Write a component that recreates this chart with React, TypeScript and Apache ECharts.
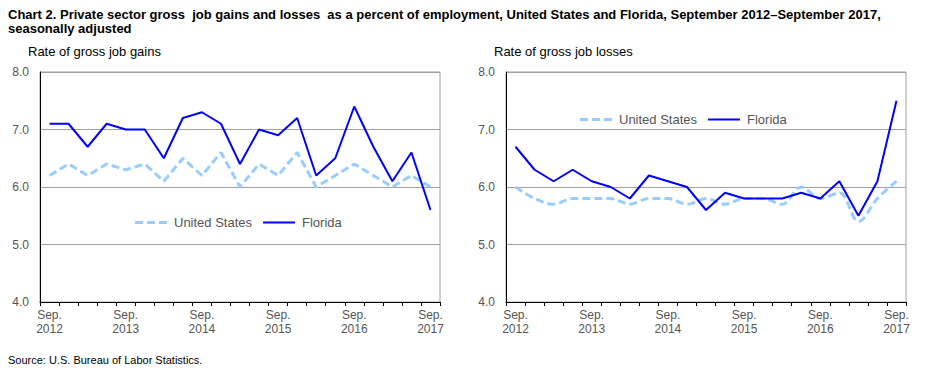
import React, { useEffect, useRef } from "react";
import * as echarts from "echarts";

const quarters = [
  "Sep. 2012", "Dec. 2012", "Mar. 2013", "Jun. 2013",
  "Sep. 2013", "Dec. 2013", "Mar. 2014", "Jun. 2014",
  "Sep. 2014", "Dec. 2014", "Mar. 2015", "Jun. 2015",
  "Sep. 2015", "Dec. 2015", "Mar. 2016", "Jun. 2016",
  "Sep. 2016", "Dec. 2016", "Mar. 2017", "Jun. 2017",
  "Sep. 2017",
];

const gainsUS = [6.2, 6.4, 6.2, 6.4, 6.3, 6.4, 6.1, 6.5, 6.2, 6.6, 6.0, 6.4, 6.2, 6.6, 6.0, 6.2, 6.4, 6.2, 6.0, 6.2, 6.0];
const gainsFL = [7.1, 7.1, 6.7, 7.1, 7.0, 7.0, 6.5, 7.2, 7.3, 7.1, 6.4, 7.0, 6.9, 7.2, 6.2, 6.5, 7.4, 6.7, 6.1, 6.6, 5.6];
const lossesUS = [6.0, 5.8, 5.7, 5.8, 5.8, 5.8, 5.7, 5.8, 5.8, 5.7, 5.8, 5.7, 5.8, 5.8, 5.7, 6.0, 5.8, 5.9, 5.4, 5.8, 6.1];
const lossesFL = [6.7, 6.3, 6.1, 6.3, 6.1, 6.0, 5.8, 6.2, 6.1, 6.0, 5.6, 5.9, 5.8, 5.8, 5.8, 5.9, 5.8, 6.1, 5.5, 6.1, 7.5];

const yTicks = { min: 4, max: 8, interval: 1 };

const titleText =
  "Chart 2. Private sector gross  job gains and losses  as a percent of employment, United States and Florida, September 2012\u2013September 2017,\nseasonally adjusted";
const panelTitles = ["Rate of gross job gains", "Rate of gross job losses"];
const seriesNames = ["United States", "Florida"];
const sourceText = "Source: U.S. Bureau of Labor Statistics.";

const FONT = "Arial, 'Liberation Sans', sans-serif";
const TEXT_GRAY = "#555555";
const US_COLOR = "#99CCFF";
const FL_COLOR = "#0000FF";

const US_ICON = "path://M0,0h8v3h-8z M12,0h8v3h-8z M24,0h8v3h-8z";
const FL_ICON = "path://M0,0h32v2h-32z";

export default function App() {
  const ref = useRef<HTMLDivElement>(null);

  useEffect(() => {
    if (!ref.current) return;
    const chart = echarts.init(ref.current, null, { renderer: "svg" });

    const grids = [
      { left: 40, top: 72, width: 400, height: 230 },
      { left: 506, top: 72, width: 400, height: 230 },
    ];

    const xAxes = grids.map((_, i) => ({
      type: "category",
      gridIndex: i,
      data: quarters,
      boundaryGap: true,
      axisLine: { show: true, lineStyle: { color: "#000", width: 1 } },
      axisTick: { show: true, interval: 0, length: 4, lineStyle: { color: "#000" } },
      axisLabel: {
        interval: 3,
        color: TEXT_GRAY,
        fontFamily: FONT,
        fontSize: 12,
        lineHeight: 14,
        margin: 6,
        formatter: (v: string) => v.replace(" ", "\n"),
      },
      splitLine: { show: false },
    }));

    const yAxes = grids.map((_, i) => ({
      type: "value",
      gridIndex: i,
      min: yTicks.min,
      max: yTicks.max,
      interval: yTicks.interval,
      axisLine: { show: true, lineStyle: { color: "#000", width: 1 } },
      axisTick: { show: false },
      axisLabel: {
        color: TEXT_GRAY,
        fontFamily: FONT,
        fontSize: 12,
        margin: 11,
        formatter: (v: number) => v.toFixed(1),
      },
      splitLine: { show: true, lineStyle: { color: "#A0A0A0", width: 1 } },
    }));

    const mkSeries = (name: string, data: number[], idx: number, isUS: boolean, smooth: boolean) => ({
      name,
      type: "line",
      xAxisIndex: idx,
      yAxisIndex: idx,
      data,
      symbol: "none",
      smooth: smooth ? 0.35 : false,
      lineStyle: isUS
        ? { color: US_COLOR, width: 3, type: [8, 4] }
        : { color: FL_COLOR, width: 2 },
      itemStyle: { color: isUS ? US_COLOR : FL_COLOR },
      z: isUS ? 2 : 3,
    });

    const legendCommon = {
      orient: "horizontal",
      itemWidth: 32,
      itemHeight: 3,
      itemGap: 11,
      textStyle: { color: TEXT_GRAY, fontFamily: FONT, fontSize: 13, padding: [0, 0, 0, 2] },
      selectedMode: false,
      data: [
        { name: seriesNames[0], icon: US_ICON, itemStyle: { color: US_COLOR, borderWidth: 0 } },
        { name: seriesNames[1], icon: FL_ICON, itemStyle: { color: FL_COLOR, borderWidth: 0 } },
      ],
    };

    chart.setOption({
      animation: false,
      backgroundColor: "#fff",
      textStyle: { fontFamily: FONT },
      title: [
        {
          text: titleText,
          left: 3,
          top: 2,
          textStyle: { fontFamily: FONT, fontSize: 13, fontWeight: "bold", color: "#000", lineHeight: 14 },
        },
        {
          text: panelTitles[0],
          left: 23,
          top: 40,
          textStyle: { fontFamily: FONT, fontSize: 13, fontWeight: "normal", color: "#000" },
        },
        {
          text: panelTitles[1],
          left: 489,
          top: 40,
          textStyle: { fontFamily: FONT, fontSize: 13, fontWeight: "normal", color: "#000" },
        },
        {
          text: sourceText,
          left: 3,
          top: 349,
          textStyle: { fontFamily: FONT, fontSize: 11, fontWeight: "normal", color: "#000" },
        },
      ],
      legend: [
        { ...legendCommon, left: 130, top: 211 },
        { ...legendCommon, left: 575, top: 108 },
      ],
      grid: grids.map((g) => ({ ...g, show: true, borderColor: "#A0A0A0", borderWidth: 1, containLabel: false })),
      xAxis: xAxes,
      yAxis: yAxes,
      series: [
        mkSeries(seriesNames[0], gainsUS, 0, true, false),
        mkSeries(seriesNames[1], gainsFL, 0, false, false),
        mkSeries(seriesNames[0], lossesUS, 1, true, true),
        mkSeries(seriesNames[1], lossesFL, 1, false, false),
      ],
    });

    return () => chart.dispose();
  }, []);

  return <div ref={ref} style={{ width: 930, height: 372, position: "absolute", left: 0, top: 0 }} />;
}
